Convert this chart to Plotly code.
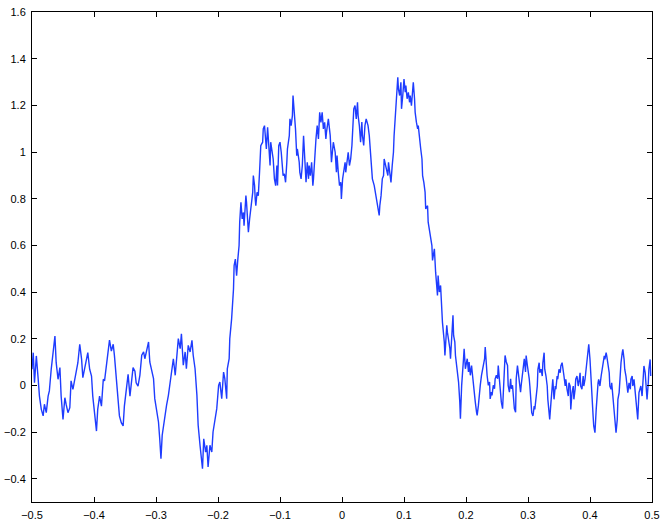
import plotly.graph_objects as go

# signal, split in six stretches
x_left = [-0.500, -0.498, -0.496, -0.493, -0.490, -0.488, -0.485, -0.482, -0.480, -0.477,
          -0.474, -0.472, -0.469, -0.466, -0.463, -0.461, -0.458, -0.455, -0.453, -0.450,
          -0.447, -0.445, -0.442, -0.439, -0.437, -0.434, -0.431, -0.428, -0.426, -0.423,
          -0.420, -0.418, -0.415, -0.412, -0.410, -0.407, -0.404, -0.402, -0.399, -0.396,
          -0.394, -0.391, -0.388, -0.385, -0.383, -0.380, -0.377, -0.375, -0.372, -0.369,
          -0.367, -0.364, -0.361, -0.359, -0.356, -0.353, -0.351, -0.348, -0.345, -0.342,
          -0.340, -0.337, -0.334, -0.332, -0.329]
y_left = [0.069, 0.14, 0.011, 0.126, 0.026, -0.046, -0.103, -0.131, -0.081, -0.117,
          -0.046, -0.024, 0.069, 0.14, 0.211, 0.097, 0.026, 0.076, -0.046, -0.146,
          -0.053, -0.081, -0.117, -0.096, 0.019, -0.017, 0.026, 0.069, 0.097, 0.176,
          0.111, 0.033, 0.069, 0.119, 0.14, 0.069, 0.04, -0.046, -0.139, -0.196,
          -0.103, -0.046, -0.089, 0.026, 0.019, 0.083, 0.169, 0.194, 0.147, 0.176,
          0.126, 0.04, -0.046, -0.131, -0.16, -0.174, -0.089, -0.017, 0.047, -0.046,
          -0.003, 0.076, 0.061, 0.011, -0.003]

x_dip = [-0.326, -0.323, -0.320, -0.318, -0.315, -0.312, -0.310, -0.307, -0.304, -0.302,
         -0.299, -0.296, -0.294, -0.292, -0.290, -0.288, -0.285, -0.283, -0.280, -0.277,
         -0.275, -0.272, -0.269, -0.267, -0.264, -0.261, -0.259, -0.256, -0.253, -0.251,
         -0.248, -0.245, -0.242, -0.240, -0.237, -0.234, -0.232, -0.229, -0.227, -0.225,
         -0.223, -0.220, -0.218, -0.216, -0.213, -0.210, -0.208, -0.205, -0.202, -0.199,
         -0.197, -0.194, -0.191, -0.189, -0.186, -0.185, -0.182, -0.181, -0.178]
y_dip = [0.043, 0.129, 0.143, 0.114, 0.157, 0.186, 0.1, 0.057, 0.029, -0.057,
         -0.114, -0.157, -0.229, -0.314, -0.214, -0.171, -0.129, -0.086, -0.043, 0.014,
         0.071, 0.114, 0.043, 0.114, 0.2, 0.157, 0.221, 0.086, 0.143, 0.071,
         0.171, 0.143, 0.193, 0.129, 0.071, -0.043, -0.171, -0.257, -0.3, -0.357,
         -0.229, -0.286, -0.257, -0.35, -0.257, -0.286, -0.2, -0.143, -0.1, 0,
         0.014, -0.057, 0.057, 0.029, -0.057, 0.071, 0.114, 0.2, 0.286]

x_rise = [-0.175, -0.174, -0.172, -0.170, -0.168, -0.166, -0.165, -0.163, -0.161, -0.159,
          -0.158, -0.155, -0.154, -0.151, -0.149, -0.147, -0.146, -0.144, -0.143, -0.141,
          -0.140, -0.139, -0.137, -0.135, -0.133, -0.132, -0.131, -0.128, -0.127, -0.125,
          -0.124, -0.122, -0.120, -0.118, -0.116, -0.115, -0.112, -0.111, -0.109, -0.107,
          -0.105, -0.104, -0.102, -0.100, -0.098, -0.096, -0.095, -0.093, -0.091, -0.089,
          -0.088, -0.085, -0.084, -0.082, -0.080, -0.079, -0.077, -0.075, -0.073, -0.072,
          -0.069, -0.068, -0.066, -0.064, -0.062, -0.060, -0.058, -0.056, -0.054, -0.053,
          -0.051, -0.049, -0.047, -0.046, -0.044, -0.042, -0.040, -0.038, -0.036, -0.034,
          -0.032, -0.030, -0.028, -0.026, -0.025, -0.022, -0.019, -0.017, -0.014, -0.011]
y_rise = [0.413, 0.513, 0.541, 0.47, 0.541, 0.599, 0.699, 0.784, 0.713, 0.741,
          0.684, 0.813, 0.784, 0.656, 0.713, 0.77, 0.784, 0.827, 0.899, 0.856,
          0.799, 0.77, 0.827, 0.813, 0.913, 0.97, 1.027, 1.042, 1.099, 1.113,
          1.07, 1.013, 1.106, 1.027, 0.942, 1.042, 0.999, 0.97, 0.885, 0.856,
          0.942, 0.856, 1.027, 1.042, 0.999, 0.927, 0.899, 0.906, 0.87, 0.956,
          1.013, 1.07, 1.142, 1.113, 1.156, 1.242, 1.185, 1.099, 0.984, 1.013,
          0.956, 0.913, 0.885, 0.942, 1.07, 0.984, 0.87, 0.956, 0.885, 0.942,
          0.899, 0.956, 0.856, 0.885, 0.999, 1.056, 1.113, 1.056, 1.17, 1.127,
          1.17, 1.099, 1.127, 1.056, 1.085, 1.142, 1.07, 0.956, 1.042, 0.999]

x_top = [-0.009, -0.008, -0.006, -0.004, -0.002, -0.001, 0.001, 0.003, 0.005, 0.006,
         0.009, 0.010, 0.012, 0.014, 0.016, 0.017, 0.019, 0.021, 0.023, 0.025,
         0.026, 0.028, 0.030, 0.032, 0.033, 0.035, 0.037, 0.039, 0.041, 0.042,
         0.044, 0.046, 0.048, 0.049, 0.052, 0.053, 0.055, 0.057, 0.059, 0.060,
         0.061, 0.063, 0.065, 0.067, 0.068, 0.070, 0.072, 0.074, 0.075, 0.077,
         0.079, 0.081, 0.083, 0.084, 0.086, 0.088, 0.090, 0.091, 0.093, 0.095,
         0.096, 0.098, 0.100, 0.102, 0.103, 0.105, 0.107, 0.109, 0.110, 0.112,
         0.113, 0.115, 0.117, 0.118, 0.120, 0.122, 0.123, 0.125, 0.127, 0.129,
         0.130, 0.132, 0.134, 0.135, 0.138, 0.139, 0.141, 0.143, 0.145]
y_top = [0.913, 0.985, 0.913, 0.856, 0.87, 0.799, 0.885, 0.913, 0.956, 0.913,
         0.97, 0.999, 0.942, 0.97, 1.028, 1.085, 1.185, 1.199, 1.142, 1.213,
         1.156, 1.113, 1.042, 1.128, 1.07, 1.028, 1.113, 1.142, 1.128, 1.113,
         1.07, 0.999, 0.956, 0.885, 0.856, 0.842, 0.813, 0.77, 0.756, 0.728,
         0.77, 0.813, 0.885, 0.899, 0.97, 0.942, 0.928, 0.899, 0.956, 0.913,
         0.87, 0.942, 0.999, 1.07, 1.17, 1.256, 1.32, 1.27, 1.242, 1.299,
         1.185, 1.242, 1.313, 1.256, 1.285, 1.228, 1.256, 1.213, 1.242, 1.199,
         1.242, 1.299, 1.228, 1.17, 1.128, 1.099, 1.113, 1.042, 1.013, 0.97,
         0.899, 0.87, 0.828, 0.756, 0.77, 0.699, 0.67, 0.628, 0.599]

x_fall = [0.146, 0.147, 0.149, 0.151, 0.153, 0.154, 0.155, 0.157, 0.159, 0.161,
          0.162, 0.165, 0.166, 0.167, 0.169, 0.170, 0.172, 0.174, 0.175, 0.177,
          0.179, 0.180, 0.182, 0.183, 0.185, 0.187, 0.188, 0.190, 0.191, 0.193,
          0.194, 0.196, 0.197, 0.199, 0.201, 0.202, 0.204, 0.205, 0.207, 0.209,
          0.210, 0.212, 0.213, 0.215, 0.217, 0.218, 0.220, 0.222, 0.223, 0.225,
          0.226, 0.228, 0.230, 0.231, 0.233, 0.234, 0.236, 0.238, 0.239, 0.241,
          0.242, 0.244, 0.246, 0.247, 0.249, 0.251, 0.252, 0.254, 0.255, 0.257,
          0.259, 0.260, 0.262, 0.263, 0.265, 0.267, 0.268, 0.270, 0.272, 0.273,
          0.275, 0.276, 0.278, 0.280, 0.281, 0.283, 0.284, 0.286, 0.288, 0.289,
          0.291, 0.293, 0.294, 0.296, 0.297, 0.299, 0.301, 0.302]
y_fall = [0.535, 0.557, 0.585, 0.485, 0.428, 0.385, 0.471, 0.4, 0.428, 0.328,
          0.271, 0.185, 0.128, 0.171, 0.257, 0.228, 0.2, 0.157, 0.114, 0.2,
          0.3, 0.214, 0.185, 0.128, 0.085, 0.028, 0.014, -0.072, -0.143, 0,
          0.057, 0.114, 0.157, 0.071, 0.1, 0.114, 0.057, 0.1, 0.043, 0.085,
          0.057, 0, -0.043, -0.072, -0.115, -0.129, -0.086, -0.015, 0, 0.043,
          0.057, 0.071, 0.114, 0.164, 0.071, 0.043, 0, 0.014, -0.058, -0.029,
          -0.043, 0, -0.015, 0.028, 0.043, 0.028, 0.085, 0.014, -0.029, -0.072,
          -0.1, -0.029, 0.057, 0.128, 0.1, 0.085, 0, -0.029, 0.028, -0.015,
          0, -0.029, -0.1, -0.115, 0.028, 0.085, 0.057, 0.014, -0.029, 0,
          0.043, 0.085, 0.114, 0.057, 0.128, 0.085, 0.057, 0.028]

x_right = [0.303, 0.305, 0.306, 0.308, 0.310, 0.311, 0.313, 0.315, 0.316, 0.318,
           0.319, 0.321, 0.323, 0.324, 0.326, 0.327, 0.329, 0.331, 0.332, 0.334,
           0.335, 0.337, 0.339, 0.340, 0.342, 0.344, 0.345, 0.347, 0.348, 0.350,
           0.352, 0.353, 0.355, 0.356, 0.358, 0.360, 0.361, 0.363, 0.365, 0.366,
           0.368, 0.369, 0.371, 0.373, 0.374, 0.376, 0.377, 0.379, 0.381, 0.382,
           0.384, 0.385, 0.387, 0.389, 0.390, 0.392, 0.394, 0.395, 0.397, 0.398,
           0.400, 0.402, 0.403, 0.405, 0.406, 0.408, 0.410, 0.411, 0.413, 0.414,
           0.416, 0.418, 0.419, 0.421, 0.423, 0.424, 0.426, 0.427, 0.429, 0.431,
           0.432, 0.434, 0.435, 0.437, 0.439, 0.440, 0.442, 0.444, 0.445, 0.447,
           0.448, 0.450, 0.452, 0.453, 0.455, 0.456, 0.458, 0.460, 0.461, 0.463,
           0.465, 0.466, 0.468, 0.469, 0.471, 0.473, 0.474, 0.476, 0.477, 0.479,
           0.481, 0.482, 0.484, 0.485, 0.487, 0.489, 0.490, 0.492, 0.494, 0.495,
           0.497, 0.498]
y_right = [-0.003, -0.06, -0.117, -0.131, -0.089, -0.103, -0.06, -0.003, 0.069, 0.097,
           0.054, 0.069, 0.04, 0.097, 0.14, 0.069, 0.04, -0.003, -0.06, -0.103,
           -0.146, -0.074, -0.003, 0.026, -0.06, -0.003, -0.017, 0.04, 0.026, 0.069,
           0.054, 0.083, 0.097, 0.069, 0.04, -0.003, 0.026, -0.017, -0.046, 0.011,
           -0.003, -0.103, -0.031, -0.003, -0.06, -0.017, 0.026, 0.04, -0.003, 0.011,
           0.054, -0.003, -0.017, 0.04, -0.003, 0.026, 0.069, 0.097, 0.14, 0.176,
           0.111, -0.003, -0.074, -0.131, -0.174, -0.203, -0.103, -0.046, 0.011, 0.026,
           -0.003, 0.04, 0.054, 0.097, 0.126, 0.111, 0.14, 0.126, 0.083, 0.054,
           -0.003, -0.017, 0.011, -0.046, -0.089, -0.131, -0.203, -0.146, -0.06, -0.031,
           0.026, 0.097, 0.14, 0.154, 0.111, 0.069, 0.04, -0.003, -0.031, 0.011,
           -0.017, 0.026, 0.04, -0.003, 0.026, -0.031, -0.06, -0.103, -0.146, -0.031,
           -0.017, -0.003, -0.046, 0.011, 0.083, 0.054, -0.003, -0.06, 0.011, 0.069,
           0.111, 0.04]

x = x_left + x_dip + x_rise + x_top + x_fall + x_right
y = y_left + y_dip + y_rise + y_top + y_fall + y_right

trace = go.Scatter(x=x, y=y, mode='lines',
                   line=dict(color='rgb(30,60,255)', width=1.4),
                   hoverinfo='skip')

axis_style = dict(showgrid=False, zeroline=False, showline=True,
                  linecolor='black', linewidth=1, mirror='ticks',
                  ticks='inside', ticklen=5, tickcolor='black',
                  automargin=False,
                  tickfont=dict(size=11, color='black'))

layout = go.Layout(width=667, height=520,
                   margin=dict(l=32, r=15, t=12, b=18),
                   paper_bgcolor='white', plot_bgcolor='white',
                   showlegend=False,
                   font=dict(family='Liberation Sans, Arial, sans-serif'),
                   xaxis=dict(range=[-0.5, 0.5], tick0=-0.5, dtick=0.1,
                              ticklabelstandoff=3, **axis_style),
                   yaxis=dict(range=[-0.5, 1.6], tick0=0, dtick=0.2,
                              ticklabelstandoff=3, **axis_style))

fig = go.Figure(data=[trace], layout=layout)
# the page body has an 8px margin by default; drop it so the figure sits at 0,0
fig.write_html("out.html", config={'displayModeBar': False},
               post_script="document.body.style.margin='0';")
